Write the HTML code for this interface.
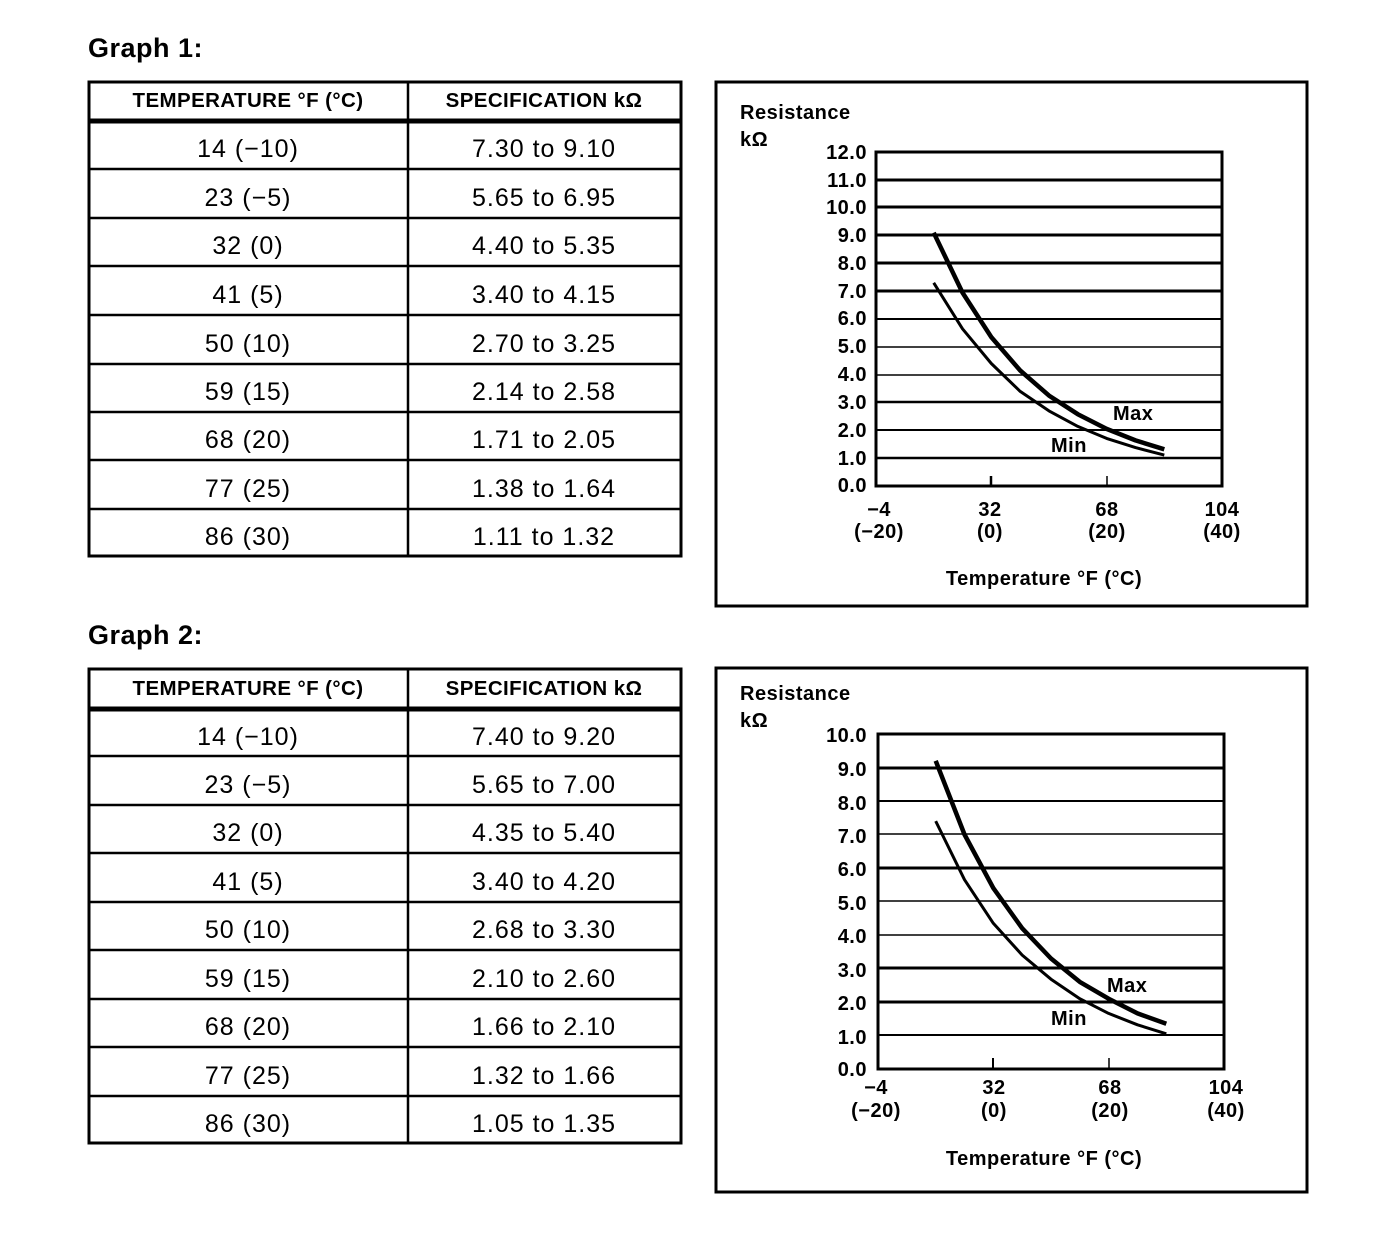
<!DOCTYPE html>
<html><head><meta charset="utf-8"><style>
html,body{margin:0;padding:0;background:#fff;}
svg{display:block;}
text{font-family:"Liberation Sans",Arial,sans-serif;fill:#000;}
.t{font-size:27px;font-weight:bold;letter-spacing:0.5px;}
.h{font-size:20.5px;font-weight:bold;letter-spacing:0.4px;}
.c{font-size:25px;letter-spacing:1px;}
.g{font-size:20px;font-weight:bold;letter-spacing:0.5px;}
</style></head><body>
<svg width="1392" height="1250" viewBox="0 0 1392 1250" xmlns="http://www.w3.org/2000/svg">
<!-- GRAPH 1 TABLE -->
<text class="t" x="88" y="57">Graph 1:</text>
<g stroke="#000" fill="none">
<rect x="89" y="82" width="592" height="474" stroke-width="3"/>
<line x1="408" y1="82" x2="408" y2="556" stroke-width="2.5"/>
<line x1="89" y1="121" x2="681" y2="121" stroke-width="5"/>
<g stroke-width="2.5">
<line x1="89" y1="169" x2="681" y2="169"/><line x1="89" y1="218" x2="681" y2="218"/>
<line x1="89" y1="266" x2="681" y2="266"/><line x1="89" y1="315" x2="681" y2="315"/>
<line x1="89" y1="364" x2="681" y2="364"/><line x1="89" y1="412" x2="681" y2="412"/>
<line x1="89" y1="460" x2="681" y2="460"/><line x1="89" y1="509" x2="681" y2="509"/>
</g></g>
<g text-anchor="middle">
<text class="h" x="248" y="107">TEMPERATURE °F (°C)</text>
<text class="h" x="544" y="107">SPECIFICATION kΩ</text>
<text class="c" x="248" y="157">14 (−10)</text><text class="c" x="544" y="157">7.30 to 9.10</text>
<text class="c" x="248" y="206">23 (−5)</text><text class="c" x="544" y="206">5.65 to 6.95</text>
<text class="c" x="248" y="254">32 (0)</text><text class="c" x="544" y="254">4.40 to 5.35</text>
<text class="c" x="248" y="303">41 (5)</text><text class="c" x="544" y="303">3.40 to 4.15</text>
<text class="c" x="248" y="352">50 (10)</text><text class="c" x="544" y="352">2.70 to 3.25</text>
<text class="c" x="248" y="400">59 (15)</text><text class="c" x="544" y="400">2.14 to 2.58</text>
<text class="c" x="248" y="448">68 (20)</text><text class="c" x="544" y="448">1.71 to 2.05</text>
<text class="c" x="248" y="497">77 (25)</text><text class="c" x="544" y="497">1.38 to 1.64</text>
<text class="c" x="248" y="545">86 (30)</text><text class="c" x="544" y="545">1.11 to 1.32</text>
</g>

<!-- GRAPH 1 CHART -->
<rect x="716" y="82" width="591" height="524" fill="none" stroke="#000" stroke-width="3"/>
<text class="g" x="740" y="119">Resistance</text>
<text class="g" x="740" y="146">kΩ</text>
<g stroke="#000">
<line x1="876" y1="180" x2="1222" y2="180" stroke-width="3"/>
<line x1="876" y1="207" x2="1222" y2="207" stroke-width="3"/>
<line x1="876" y1="235" x2="1222" y2="235" stroke-width="3"/>
<line x1="876" y1="263" x2="1222" y2="263" stroke-width="3"/>
<line x1="876" y1="291" x2="1222" y2="291" stroke-width="3"/>
<line x1="876" y1="319" x2="1222" y2="319" stroke-width="2"/>
<line x1="876" y1="347" x2="1222" y2="347" stroke-width="1.5"/>
<line x1="876" y1="375" x2="1222" y2="375" stroke-width="1.5"/>
<line x1="876" y1="402" x2="1222" y2="402" stroke-width="2.5"/>
<line x1="876" y1="430" x2="1222" y2="430" stroke-width="2"/>
<line x1="876" y1="458" x2="1222" y2="458" stroke-width="2.5"/>
<rect x="876" y="152" width="346" height="334" fill="none" stroke-width="3"/>
<line x1="991" y1="476" x2="991" y2="486" stroke-width="2.5"/>
<line x1="1107" y1="476" x2="1107" y2="486" stroke-width="1.5"/>
</g>
<g text-anchor="end">
<text class="g" x="867" y="159">12.0</text><text class="g" x="867" y="187">11.0</text>
<text class="g" x="867" y="214">10.0</text><text class="g" x="867" y="242">9.0</text>
<text class="g" x="867" y="270">8.0</text><text class="g" x="867" y="298">7.0</text>
<text class="g" x="867" y="325">6.0</text><text class="g" x="867" y="353">5.0</text>
<text class="g" x="867" y="381">4.0</text><text class="g" x="867" y="409">3.0</text>
<text class="g" x="867" y="437">2.0</text><text class="g" x="867" y="465">1.0</text>
<text class="g" x="867" y="492">0.0</text>
</g>
<g text-anchor="middle">
<text class="g" x="879" y="516">−4</text><text class="g" x="879" y="538">(−20)</text>
<text class="g" x="990" y="516">32</text><text class="g" x="990" y="538">(0)</text>
<text class="g" x="1107" y="516">68</text><text class="g" x="1107" y="538">(20)</text>
<text class="g" x="1222" y="516">104</text><text class="g" x="1222" y="538">(40)</text>
<text class="g" x="1044" y="585">Temperature °F (°C)</text>
</g>
<text class="g" x="1113" y="420">Max</text>
<text class="g" x="1051" y="452">Min</text>
<polyline fill="none" stroke="#000" stroke-width="4.5" stroke-linejoin="round" points="933.7,232.7 962.5,292.6 991.3,337.1 1020.2,370.5 1049,395.6 1077.8,414.2 1106.6,428.9 1135.5,440.4 1164.3,449.3"/>
<polyline fill="none" stroke="#000" stroke-width="3" stroke-linejoin="round" points="933.7,282.8 962.5,328.8 991.3,363.5 1020.2,391.4 1049,410.9 1077.8,426.4 1106.6,438.4 1135.5,447.6 1164.3,455.1"/>

<!-- GRAPH 2 TABLE -->
<text class="t" x="88" y="644">Graph 2:</text>
<g stroke="#000" fill="none">
<rect x="89" y="669" width="592" height="474" stroke-width="3"/>
<line x1="408" y1="669" x2="408" y2="1143" stroke-width="2.5"/>
<line x1="89" y1="709" x2="681" y2="709" stroke-width="5"/>
<g stroke-width="2.5">
<line x1="89" y1="756" x2="681" y2="756"/><line x1="89" y1="805" x2="681" y2="805"/>
<line x1="89" y1="853" x2="681" y2="853"/><line x1="89" y1="902" x2="681" y2="902"/>
<line x1="89" y1="950" x2="681" y2="950"/><line x1="89" y1="999" x2="681" y2="999"/>
<line x1="89" y1="1047" x2="681" y2="1047"/><line x1="89" y1="1096" x2="681" y2="1096"/>
</g></g>
<g text-anchor="middle">
<text class="h" x="248" y="695">TEMPERATURE °F (°C)</text>
<text class="h" x="544" y="695">SPECIFICATION kΩ</text>
<text class="c" x="248" y="745">14 (−10)</text><text class="c" x="544" y="745">7.40 to 9.20</text>
<text class="c" x="248" y="793">23 (−5)</text><text class="c" x="544" y="793">5.65 to 7.00</text>
<text class="c" x="248" y="841">32 (0)</text><text class="c" x="544" y="841">4.35 to 5.40</text>
<text class="c" x="248" y="890">41 (5)</text><text class="c" x="544" y="890">3.40 to 4.20</text>
<text class="c" x="248" y="938">50 (10)</text><text class="c" x="544" y="938">2.68 to 3.30</text>
<text class="c" x="248" y="987">59 (15)</text><text class="c" x="544" y="987">2.10 to 2.60</text>
<text class="c" x="248" y="1035">68 (20)</text><text class="c" x="544" y="1035">1.66 to 2.10</text>
<text class="c" x="248" y="1084">77 (25)</text><text class="c" x="544" y="1084">1.32 to 1.66</text>
<text class="c" x="248" y="1132">86 (30)</text><text class="c" x="544" y="1132">1.05 to 1.35</text>
</g>

<!-- GRAPH 2 CHART -->
<rect x="716" y="668" width="591" height="524" fill="none" stroke="#000" stroke-width="3"/>
<text class="g" x="740" y="700">Resistance</text>
<text class="g" x="740" y="727">kΩ</text>
<g stroke="#000">
<line x1="878" y1="768" x2="1224" y2="768" stroke-width="3"/>
<line x1="878" y1="801" x2="1224" y2="801" stroke-width="2"/>
<line x1="878" y1="834" x2="1224" y2="834" stroke-width="1.5"/>
<line x1="878" y1="868" x2="1224" y2="868" stroke-width="3"/>
<line x1="878" y1="901" x2="1224" y2="901" stroke-width="1.5"/>
<line x1="878" y1="935" x2="1224" y2="935" stroke-width="1.5"/>
<line x1="878" y1="968" x2="1224" y2="968" stroke-width="3"/>
<line x1="878" y1="1002" x2="1224" y2="1002" stroke-width="3"/>
<line x1="878" y1="1035" x2="1224" y2="1035" stroke-width="2"/>
<rect x="878" y="734" width="346" height="335" fill="none" stroke-width="3"/>
<line x1="993" y1="1058" x2="993" y2="1069" stroke-width="2"/>
<line x1="1109" y1="1058" x2="1109" y2="1069" stroke-width="1.5"/>
</g>
<g text-anchor="end">
<text class="g" x="867" y="742">10.0</text><text class="g" x="867" y="776">9.0</text>
<text class="g" x="867" y="810">8.0</text><text class="g" x="867" y="843">7.0</text>
<text class="g" x="867" y="876">6.0</text><text class="g" x="867" y="910">5.0</text>
<text class="g" x="867" y="943">4.0</text><text class="g" x="867" y="977">3.0</text>
<text class="g" x="867" y="1010">2.0</text><text class="g" x="867" y="1044">1.0</text>
<text class="g" x="867" y="1076">0.0</text>
</g>
<g text-anchor="middle">
<text class="g" x="876" y="1094">−4</text><text class="g" x="876" y="1117">(−20)</text>
<text class="g" x="994" y="1094">32</text><text class="g" x="994" y="1117">(0)</text>
<text class="g" x="1110" y="1094">68</text><text class="g" x="1110" y="1117">(20)</text>
<text class="g" x="1226" y="1094">104</text><text class="g" x="1226" y="1117">(40)</text>
<text class="g" x="1044" y="1165">Temperature °F (°C)</text>
</g>
<text class="g" x="1107" y="992">Max</text>
<text class="g" x="1051" y="1025">Min</text>
<polyline fill="none" stroke="#000" stroke-width="4.5" stroke-linejoin="round" points="935.7,760.8 964.5,834.5 993.3,888.1 1022.2,928.3 1051,958.5 1079.8,981.9 1108.6,998.7 1137.5,1013.4 1166.3,1023.8"/>
<polyline fill="none" stroke="#000" stroke-width="3" stroke-linejoin="round" points="935.7,821.1 964.5,879.7 993.3,923.3 1022.2,955.1 1051,979.2 1079.8,998.7 1108.6,1013.4 1137.5,1024.8 1166.3,1033.8"/>
</svg>
</body></html>
